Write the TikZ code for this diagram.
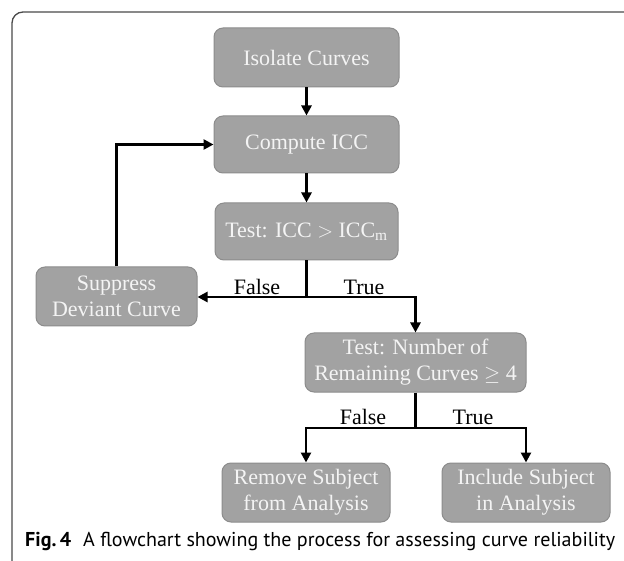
\documentclass[tikz,border=0pt]{standalone}
\usepackage{fontspec}
\setmainfont{Liberation Serif}
\newfontfamily\capfont{PT Sans}
\usetikzlibrary{arrows.meta}
\definecolor{boxfill}{HTML}{A2A2A2}
\definecolor{boxline}{HTML}{8C8C8C}
\definecolor{boxtext}{HTML}{F4F4F4}
\definecolor{framecol}{HTML}{4A4A4A}
\tikzset{
  flowbox/.style={draw=boxline, line width=1pt, fill=boxfill, rounded corners=9pt,
    text=boxtext, align=center, inner sep=0pt,
    font=\fontsize{22pt}{26pt}\selectfont},
  conn/.style={line width=2.8pt, black},
  arr/.style={conn, -{Triangle[length=10pt,width=10pt]}},
  lbl/.style={font=\fontsize{22pt}{26pt}\selectfont, text=black, inner sep=0pt}
}
\begin{document}
\begin{tikzpicture}[x=1pt,y=-1pt]
\useasboundingbox (0,0) rectangle (624,561);
% frame
\draw[framecol, line width=1.3pt] (12,562) -- (12,23) arc[start angle=180, end angle=270, radius=11] -- (625,12);
% boxes
\node[flowbox, minimum width=185pt, minimum height=59pt] (iso) at (306.5,57.5) {Isolate Curves};
\node[flowbox, minimum width=185pt, minimum height=57pt] (comp) at (306.5,144.5) {Compute ICC};
\node[flowbox, minimum width=183pt, minimum height=57pt] (test1) at (306.5,231.5) {Test: ICC $>$ ICC\textsubscript{m}};
\node[flowbox, minimum width=161pt, minimum height=59pt] (supp) at (116.5,296.5) {Suppress\\Deviant Curve};
\node[flowbox, minimum width=221pt, minimum height=59pt] (test2) at (415.5,362.5) {Test: Number of\\Remaining Curves $\geq$ 4};
\node[flowbox, minimum width=168pt, minimum height=59pt] (rem) at (306,492.5) {Remove Subject\\from Analysis};
\node[flowbox, minimum width=168pt, minimum height=59pt] (inc) at (526,492.5) {Include Subject\\in Analysis};
% junctions
\coordinate (j1) at (306.5,297);
\coordinate (j2) at (415.5,428);
% connectors
\draw[arr] (iso.south) -- (comp.north);
\draw[arr] (comp.south) -- (test1.north);
\draw[conn] (test1.south) -- (j1);
\draw[arr] (j1) -- (supp.east |- j1);
\draw[arr] (j1) -| (test2.north);
\draw[arr] (supp.north) |- (comp.west);
\draw[conn] (test2.south) -- (j2);
\draw[arr] (j2) -| (rem.north);
\draw[arr] (j2) -| (inc.north);
% labels
\node[lbl] (f1) at (257,287) {False};
\node[lbl] (t1) at (364,287) {True};
\node[lbl] (f2) at (363,417) {False};
\node[lbl] (t2) at (473,417) {True};
% caption
\node[anchor=west, inner sep=0pt] (cap) at (25,541) {\resizebox{590pt}{!}{\capfont\fontsize{20pt}{24pt}\selectfont\textbf{Fig.\,4}\hspace{0.6em}A flowchart showing the process for assessing curve reliability}};
\end{tikzpicture}
\end{document}
